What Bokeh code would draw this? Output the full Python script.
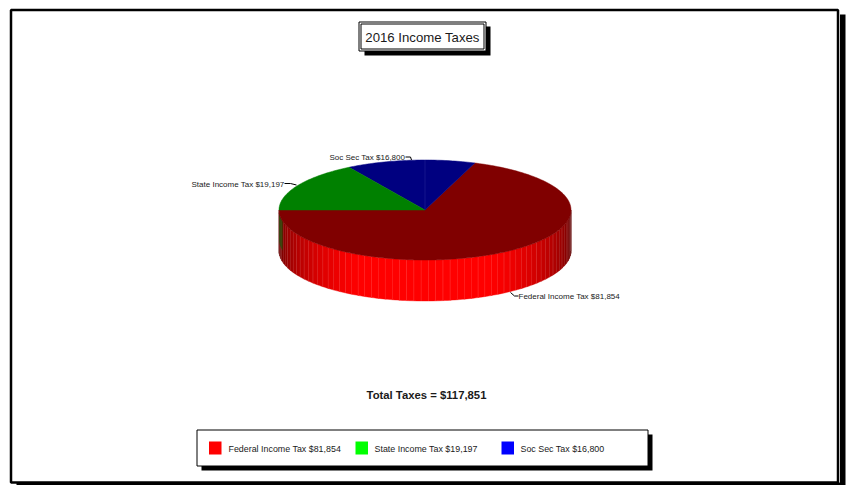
import math
from bokeh.embed import file_html
from bokeh.models import Label, Range1d
from bokeh.plotting import figure
from bokeh.resources import INLINE

# Tax amounts, in the order the slices run around the pie
categories = ["Federal Income Tax", "Soc Sec Tax", "State Income Tax"]
amounts = [81854, 16800, 19197]
wall_rgb = [(255, 0, 0), (0, 0, 255), (0, 255, 0)]
top_colors = ["#800000", "#000080", "#008000"]

legend_order = ["Federal Income Tax", "State Income Tax", "Soc Sec Tax"]
legend_colors = ["#ff0000", "#00ff00", "#0000ff"]

W, H = 846, 485
CX, CY, RX, RY, DEPTH = 424.5, 209.5, 146, 50, 41
START_DEG = 180.0
STRIP_DEG = 2.87


def money(v):
    return f"${v:,}"


def rim(deg, drop=0.0):
    a = math.radians(deg)
    return CX + RX * math.cos(a), CY - RY * math.sin(a) + drop


def hexcolor(rgb):
    return "#%02x%02x%02x" % tuple(rgb)


p = figure(width=W, height=H, x_range=Range1d(0, W), y_range=Range1d(H, 0),
           output_backend="svg", toolbar_location=None, min_border=0,
           outline_line_color=None, background_fill_color="white",
           border_fill_color="white")
p.axis.visible = False
p.grid.visible = False


def box(x0, y0, x1, y1, fill="white", line=None, width=1.0):
    p.quad(left=[x0], right=[x1], top=[y0], bottom=[y1], fill_color=fill,
           line_color=line, line_width=width)


def label(x, y, text, size, align="left", style="normal"):
    p.add_layout(Label(x=x, y=y, text=text, text_font="Liberation Sans", text_font_size=f"{size}px",
                       text_font_style=style, text_color="#1a1a1a", text_align=align,
                       text_baseline="middle"))


# Page frame with its drop shadow
box(16, 14, 845, 485, fill="black")
box(9, 8, 839.5, 482, fill="white")
box(10.5, 9.5, 837.5, 482, fill="white", line="black", width=2.5)

# Title plate
box(364, 26, 490, 55, fill="black")
box(358.5, 21.5, 485.5, 50.5, fill="white", line="black", width=1)
box(360.5, 23.5, 483.5, 48.5, fill="white", line="black", width=1)
label(422, 36.5, "2016 Income Taxes", 13.2, align="center")

# Slice spans, in degrees, derived from the amounts
total = sum(amounts)
spans = []
angle = START_DEG
for v in amounts:
    sweep = 360.0 * v / total
    spans.append((angle, angle + sweep))
    angle += sweep

# Side wall: only the front half of the rim is visible (180-360 deg)
for (a0, a1), rgb in zip(spans, wall_rgb):
    lo, hi = max(a0, 180.0), min(a1, 360.0)
    if hi <= lo:
        continue
    n = max(1, round((hi - lo) / STRIP_DEG))
    for i in range(n):
        s0 = lo + (hi - lo) * i / n
        s1 = lo + (hi - lo) * (i + 1) / n
        mid = (s0 + s1) / 2
        shade = min(1.0, 0.35 + 0.73 * abs(math.sin(math.radians(mid))))
        col = [int(c * shade) for c in rgb]
        steps = [s0 + (s1 - s0) * k / 3 for k in range(4)]
        xs = [rim(d)[0] for d in steps] + [rim(d, DEPTH)[0] for d in reversed(steps)]
        ys = [rim(d)[1] for d in steps] + [rim(d, DEPTH)[1] for d in reversed(steps)]
        p.patch(xs, ys, fill_color=hexcolor(col), line_color=hexcolor(col), line_width=0.4)
        # faint seam between neighbouring strips
        sx, sy0 = rim(s1)
        _, sy1 = rim(s1, DEPTH)
        seam = [min(255, int(c + 0.36 * (255 - c))) for c in col]
        p.line([sx, sx], [sy0, sy1], line_color=hexcolor(seam), line_width=0.8)

# Green bleed on the far left of the wall, next to the state slice
bleed = [180 + k * 13 / 6 for k in range(7)]
p.patch([rim(d)[0] for d in bleed] + [rim(d, 0.72 * DEPTH)[0] for d in reversed(bleed)],
        [rim(d)[1] for d in bleed] + [rim(d, 0.72 * DEPTH)[1] for d in reversed(bleed)],
        fill_color="#006000", fill_alpha=0.55, line_color=None)

# Top face of each slice
for (a0, a1), color in zip(spans, top_colors):
    n = max(8, int(a1 - a0))
    pts = [rim(a0 + (a1 - a0) * k / n) for k in range(n + 1)]
    xs = [CX] + [q[0] for q in pts]
    ys = [CY] + [q[1] for q in pts]
    p.patch(xs, ys, fill_color=color, line_color=color, line_width=0.5)

# Faint seam across the blue slice, straight up from the centre
p.line([CX, CX], [CY, CY - RY], line_color="#1a1a90", line_width=0.8)

# Leader lines and slice labels
label_text = {c: f"{c} {money(v)}" for c, v in zip(categories, amounts)}
p.line([284, 290, 296], [183, 183, 184.5], line_color="black", line_width=1)
label(191, 183.5, label_text["State Income Tax"], 8)
p.line([405, 410, 411], [156.5, 156.5, 159.5], line_color="black", line_width=1)
label(329, 156.5, label_text["Soc Sec Tax"], 8)
p.line([510, 514, 518], [292, 295.5, 295.5], line_color="black", line_width=1)
label(518, 295.5, label_text["Federal Income Tax"], 8)

# Total line
label(426, 394.5, f"Total Taxes = {money(total)}", 11.3, align="center", style="bold")

# Legend plate
box(201, 434, 652, 470, fill="black")
box(196.5, 429.5, 647.5, 465.5, fill="white", line="black", width=1)
amount_by_name = dict(zip(categories, amounts))
swatch_x = [208.5, 355, 501]
text_x = [228, 374, 520]
for name, color, sx, tx in zip(legend_order, legend_colors, swatch_x, text_x):
    box(sx, 441, sx + 12.5, 454, fill=color)
    label(tx, 448.5, f"{name}  {money(amount_by_name[name])}", 8.9)

open("out.html", "w").write(file_html(p, INLINE))
